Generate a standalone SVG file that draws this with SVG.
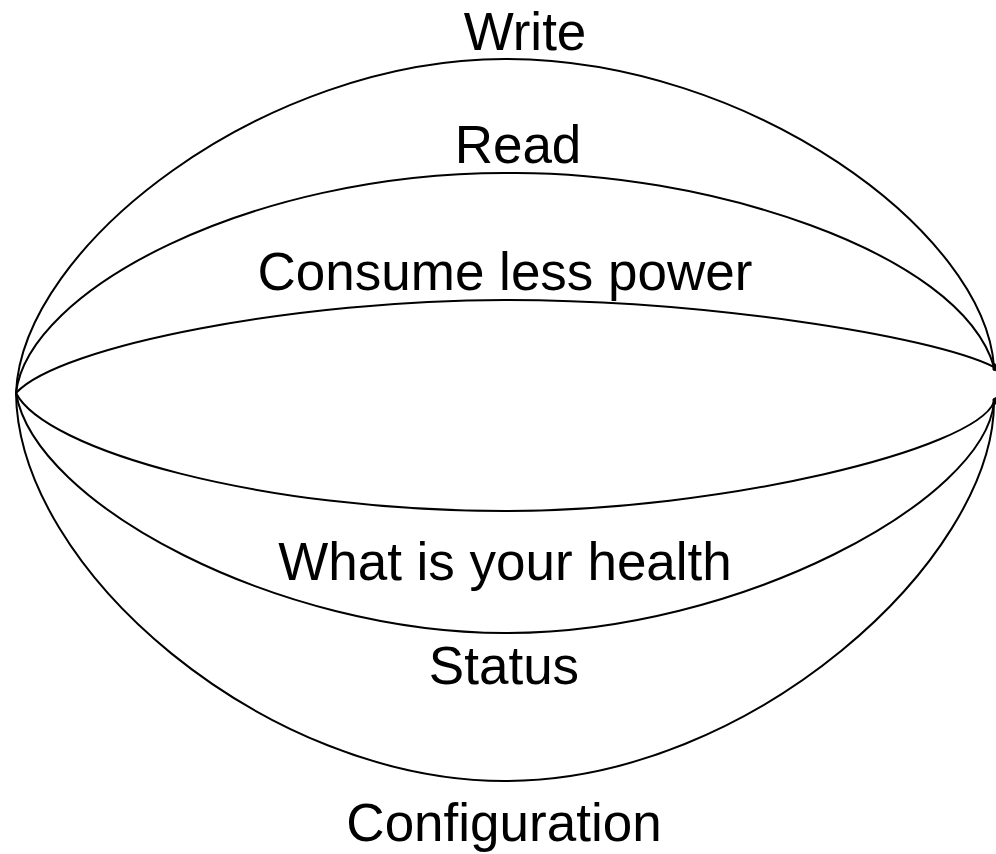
<svg xmlns="http://www.w3.org/2000/svg" width="996" height="854" viewBox="0 0 996 854">
<style>
.e{fill:none;stroke:#000;stroke-width:2}
.l{font-family:"Liberation Sans",Arial,sans-serif;font-size:53px;fill:#000;text-anchor:middle}
.h{fill:#000;stroke:#000;stroke-width:1}
</style>
<rect width="996" height="854" fill="#fff"/>
<g id="connectors">
<g id="edge-write">
<path class="e" d="M16,393 C22,245 265,59 505,59 C750,59 985,232 994,367"/>
<text class="l" x="525" y="50">Write</text>
</g>
<g id="edge-read">
<path class="e" d="M16,393 C28,290 250,173 505,173 C700,170 960,250 994,367"/>
<text class="l" x="518" y="163">Read</text>
</g>
<g id="edge-consume">
<path class="e" d="M16,393 C60,345 300,300 505,300 C700,300 930,335 994,367"/>
<text class="l" x="505" y="290">Consume less power</text>
</g>
<g id="edge-health">
<path class="e" d="M16,393 C45,450 260,511 505,511 C720,511 975,450 994,402"/>
<text class="l" x="505" y="580">What is your health</text>
</g>
<g id="edge-status">
<path class="e" d="M16,393 C35,505 280,633 505,633 C740,633 985,500 994,402"/>
<text class="l" x="504" y="684">Status</text>
</g>
<g id="edge-config">
<path class="e" d="M16,393 C18,570 265,781 505,781 C750,781 994,560 994,402"/>
<text class="l" x="504" y="841">Configuration</text>
</g>
<polygon class="h" points="993,363 997,365 997,371 993,370"/>
<polygon class="h" points="993,399 997,397 997,404 993,404"/>
</g>
</svg>
